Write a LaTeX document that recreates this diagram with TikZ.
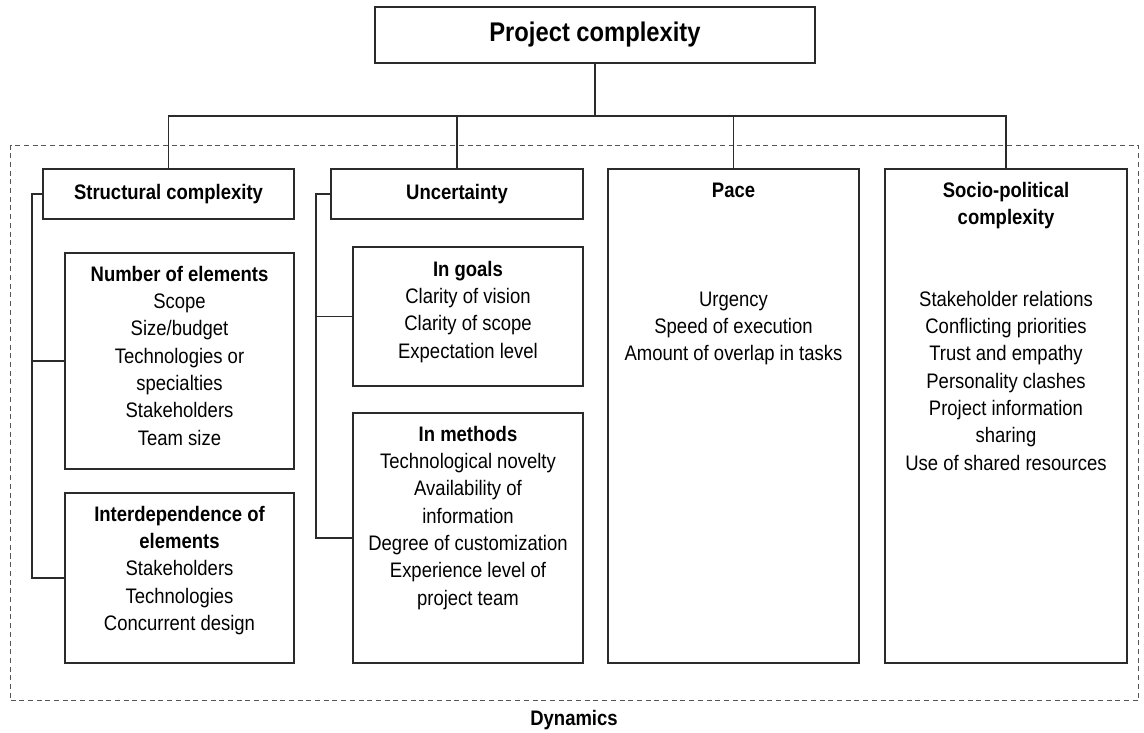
\documentclass[tikz,border=0pt]{standalone}
\usepackage{fontspec}
\setmainfont{Liberation Sans}[FakeStretch=0.88]
\definecolor{linegray}{HTML}{2B2B2B}
\definecolor{dashgray}{HTML}{555555}
\begin{document}
\begin{tikzpicture}[x=1pt,y=-1pt,
  frame/.style={draw=linegray, line width=1.8pt, rectangle, inner sep=0pt, outer sep=0pt, anchor=north west},
  conn/.style={draw=linegray, line width=1.5pt},
  txt/.style={align=center, inner sep=0pt, anchor=north, font=\fontsize{21}{27.3}\selectfont},
  head/.style={font=\fontsize{21}{27.3}\selectfont\bfseries, inner sep=0pt},
  dyn/.style={draw=dashgray, line width=1pt, dash pattern=on 5pt off 3.7pt, rectangle, inner sep=0pt, anchor=north west}
]
\fill[white] (0,0) rectangle (1144,733);
\useasboundingbox (0,0) rectangle (1144,733);

% outer dynamics frame
\node[dyn, minimum width=1128, minimum height=555] (dynbox) at (10,145) {};
\node[head] (dynlabel) at (574,720) {Dynamics};

% top of the hierarchy
\node[frame, anchor=center, minimum width=440, minimum height=56,
      font=\fontsize{27}{32}\selectfont\bfseries] (title) at (595,35) {Project complexity};

% four dimensions
\node[frame, minimum width=251, minimum height=50, font=\fontsize{21}{27.3}\selectfont\bfseries] (sc) at (43,169) {Structural complexity};
\node[frame, minimum width=252, minimum height=50, font=\fontsize{21}{27.3}\selectfont\bfseries] (un) at (331,169) {Uncertainty};
\node[frame, minimum width=251, minimum height=494] (pace) at (608,169) {};
\node[frame, minimum width=242, minimum height=494] (socio) at (885,169) {};

% sub-boxes of structural complexity
\node[frame, minimum width=229, minimum height=216] (nb) at (65,253) {};
\node[frame, minimum width=229, minimum height=170] (ie) at (65,493) {};

% sub-boxes of uncertainty
\node[frame, minimum width=230, minimum height=139] (ig) at (353,247) {};
\node[frame, minimum width=230, minimum height=250] (im) at (353,413) {};

% box contents
\node[txt] (nbt) at ([yshift=-9]nb.north) {\strut\textbf{Number of elements}\\Scope\\Size/budget\\Technologies or\\specialties\\Stakeholders\\Team size};
\node[txt] (iet) at ([yshift=-9]ie.north) {\strut\textbf{Interdependence of}\\\textbf{elements}\\Stakeholders\\Technologies\\Concurrent design};
\node[txt] (igt) at ([yshift=-10]ig.north) {\strut\textbf{In goals}\\Clarity of vision\\Clarity of scope\\Expectation level};
\node[txt] (imt) at ([yshift=-9]im.north) {\strut\textbf{In methods}\\Technological novelty\\Availability of\\information\\Degree of customization\\Experience level of\\project team};
\node[txt] (pacehead) at ([yshift=-9]pace.north) {\strut\textbf{Pace}};
\node[txt] (pacebody) at ([yshift=-118]pace.north) {\strut Urgency\\Speed of execution\\Amount of overlap in tasks};
\node[txt] (sociohead) at ([yshift=-9]socio.north) {\strut\textbf{Socio-political}\\\textbf{complexity}};
\node[txt] (sociobody) at ([yshift=-118]socio.north) {\strut Stakeholder relations\\Conflicting priorities\\Trust and empathy\\Personality clashes\\Project information\\sharing\\Use of shared resources};

% hierarchy connectors
\coordinate (bar) at (595,116);
\draw[conn] (title.south) -- (bar);
\draw[conn] (sc.north) |- (bar) -| (socio.north);
\draw[conn] (un.north) -- (un.north |- bar);
\draw[conn] (pace.north) -- (pace.north |- bar);

% side trees
\draw[conn] (sc.west) -- ++(-11,0) |- (ie.west);
\draw[conn] (nb.west) -- ++(-33,0);
\draw[conn] (un.west) -- ++(-15,0) |- (im.west);
\draw[conn] (ig.west) -- ++(-37,0);
\end{tikzpicture}
\end{document}
